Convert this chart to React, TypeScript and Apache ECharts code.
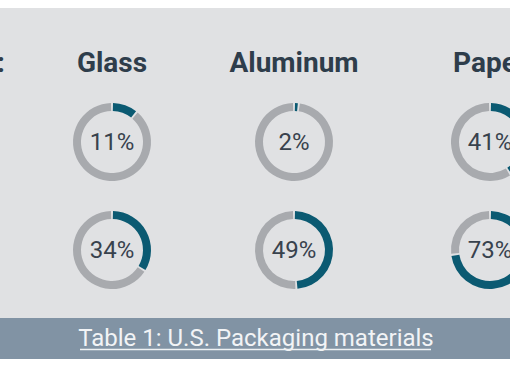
import React, { useEffect, useRef } from "react";
import * as echarts from "echarts";

const materials = ["Glass", "Aluminum", "Paper"];
const rowA = [11, 2, 41];
const rowB = [34, 49, 73];
const caption = "Table 1: U.S. Packaging materials";
const leftFragment = ":";

const colX = [112, 294, 490];
const rowY = [142, 250];
const TEAL = "#0b5a72";
const RING = "#a8aaae";
const BG = "#e0e1e3";
const BAR = "#8193a4";

export default function App() {
  const ref = useRef<HTMLDivElement>(null);
  useEffect(() => {
    if (!ref.current) return;
    const chart = echarts.init(ref.current, null, { renderer: "svg" });
    const series: any[] = [];
    [rowA, rowB].forEach((row, r) => {
      row.forEach((v, c) => {
        series.push({
          type: "pie",
          center: [colX[c], rowY[r]],
          radius: [31, 39],
          startAngle: 90,
          clockwise: true,
          padAngle: 3,
          silent: true,
          labelLine: { show: false },
          data: [
            {
              value: v,
              itemStyle: { color: TEAL },
              label: {
                show: true,
                position: "center",
                formatter: v + "%",
                fontFamily: "Roboto",
                fontSize: 24,
                color: "#38424d",
              },
            },
            { value: 100 - v, itemStyle: { color: RING }, label: { show: false } },
          ],
        });
      });
    });
    const graphic: any[] = [
      { type: "rect", z: -10, shape: { x: 0, y: 8, width: 510, height: 310 }, style: { fill: BG } },
      { type: "rect", z: -10, shape: { x: 0, y: 318, width: 510, height: 41 }, style: { fill: BAR } },
      {
        type: "text",
        x: 5,
        y: 62,
        style: {
          text: leftFragment,
          align: "right",
          verticalAlign: "middle",
          fontFamily: "Roboto",
          fontWeight: "bold",
          fontSize: 28,
          fill: "#2e3d4b",
        },
      },
      ...materials.map((m, i) => ({
        type: "text",
        x: colX[i],
        y: 62,
        style: {
          text: m,
          align: "center",
          verticalAlign: "middle",
          fontFamily: "Roboto",
          fontWeight: "bold",
          fontSize: 28,
          fill: "#2e3d4b",
        },
      })),
      {
        type: "text",
        x: 256,
        y: 338,
        style: {
          text: caption,
          align: "center",
          verticalAlign: "middle",
          fontFamily: "Roboto",
          fontSize: 24,
          fill: "#f2f4f6",
        },
      },
      { type: "line", shape: { x1: 80, y1: 349.5, x2: 431, y2: 349.5 }, style: { stroke: "#eef1f3", lineWidth: 1.5 } },
    ];
    chart.setOption({
      animation: false,
      backgroundColor: "#ffffff",
      graphic,
      series,
    });
    return () => chart.dispose();
  }, []);
  return (
    <div
      ref={ref}
      style={{ position: "absolute", left: 0, top: 0, width: 510, height: 382 }}
    />
  );
}
